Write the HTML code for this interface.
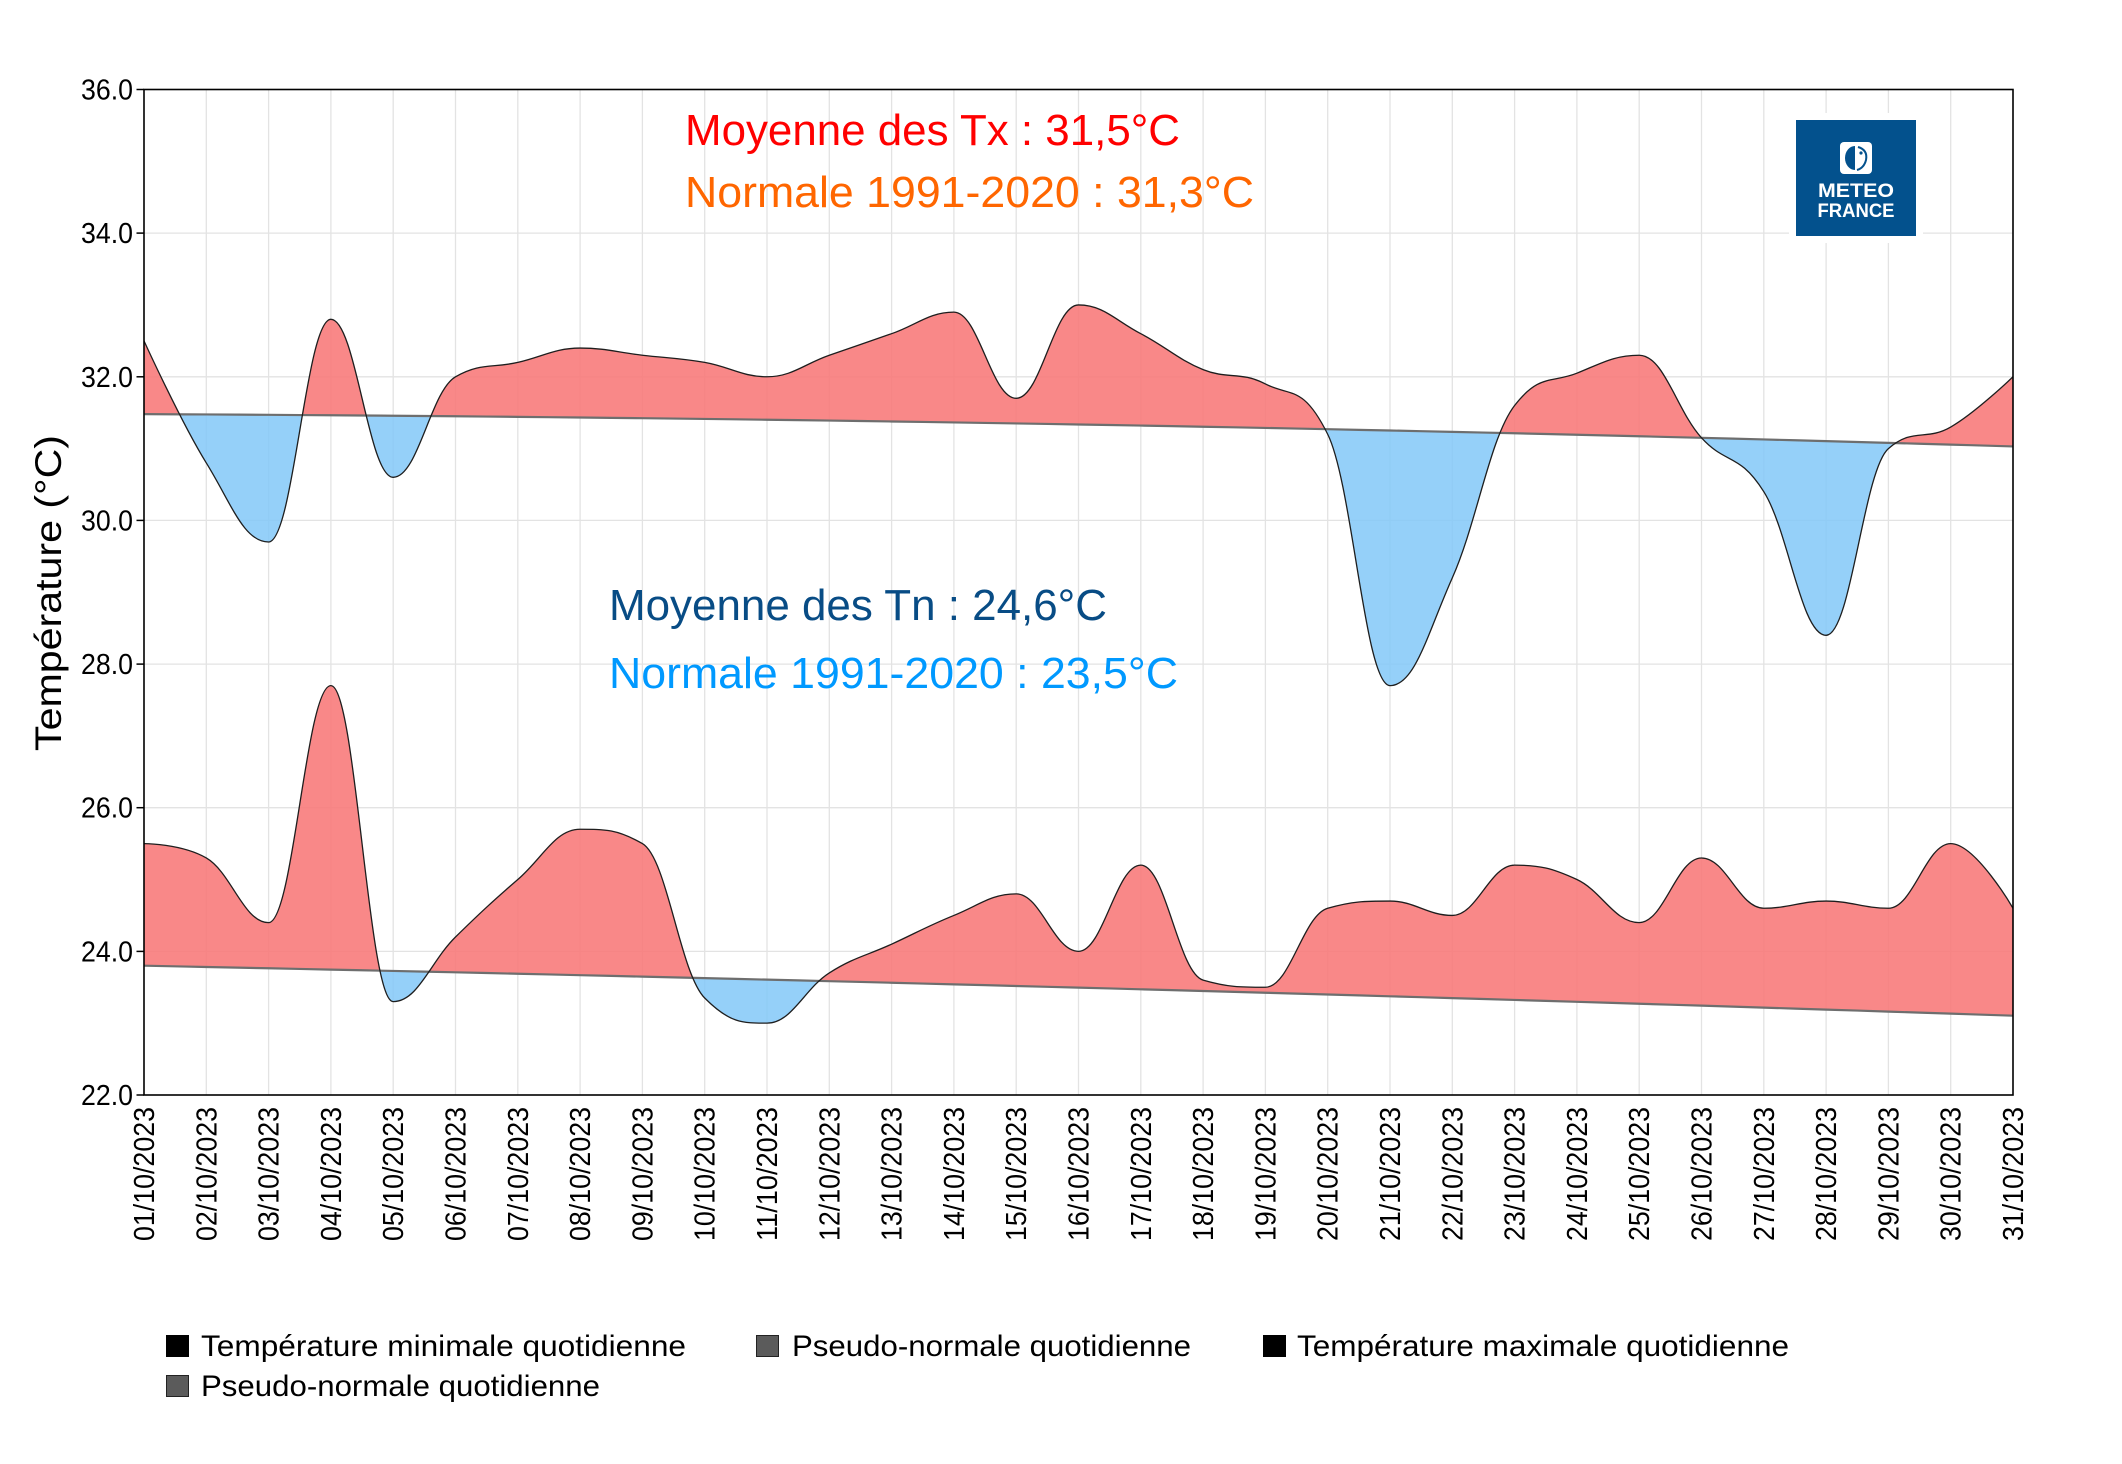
<!DOCTYPE html>
<html>
<head>
<meta charset="utf-8">
<style>
  html,body{margin:0;padding:0;background:#fff;}
  svg{display:block;}
  text{font-family:"Liberation Sans",Arial,sans-serif;}
</style>
</head>
<body>
<svg id="chart" width="2122" height="1464" viewBox="0 0 2122 1464" xmlns="http://www.w3.org/2000/svg">
  <rect x="0" y="0" width="2122" height="1464" fill="#fff"/>
  <defs>
    <clipPath id="plotClip"><rect x="144" y="89.5" width="1869" height="1005.5"/></clipPath>
    <clipPath id="txAbove"><path id="txAbovePath" d=""/></clipPath>
    <clipPath id="txBelow"><path id="txBelowPath" d=""/></clipPath>
    <clipPath id="tnAbove"><path id="tnAbovePath" d=""/></clipPath>
    <clipPath id="tnBelow"><path id="tnBelowPath" d=""/></clipPath>
  </defs>

  <!-- grid -->
  <g stroke="#e3e3e3" stroke-width="1.3">
    <line x1="206.3" y1="89.5" x2="206.3" y2="1095"/>
    <line x1="268.6" y1="89.5" x2="268.6" y2="1095"/>
    <line x1="330.9" y1="89.5" x2="330.9" y2="1095"/>
    <line x1="393.2" y1="89.5" x2="393.2" y2="1095"/>
    <line x1="455.5" y1="89.5" x2="455.5" y2="1095"/>
    <line x1="517.8" y1="89.5" x2="517.8" y2="1095"/>
    <line x1="580.1" y1="89.5" x2="580.1" y2="1095"/>
    <line x1="642.4" y1="89.5" x2="642.4" y2="1095"/>
    <line x1="704.7" y1="89.5" x2="704.7" y2="1095"/>
    <line x1="767" y1="89.5" x2="767" y2="1095"/>
    <line x1="829.3" y1="89.5" x2="829.3" y2="1095"/>
    <line x1="891.6" y1="89.5" x2="891.6" y2="1095"/>
    <line x1="953.9" y1="89.5" x2="953.9" y2="1095"/>
    <line x1="1016.2" y1="89.5" x2="1016.2" y2="1095"/>
    <line x1="1078.5" y1="89.5" x2="1078.5" y2="1095"/>
    <line x1="1140.8" y1="89.5" x2="1140.8" y2="1095"/>
    <line x1="1203.1" y1="89.5" x2="1203.1" y2="1095"/>
    <line x1="1265.4" y1="89.5" x2="1265.4" y2="1095"/>
    <line x1="1327.7" y1="89.5" x2="1327.7" y2="1095"/>
    <line x1="1390" y1="89.5" x2="1390" y2="1095"/>
    <line x1="1452.3" y1="89.5" x2="1452.3" y2="1095"/>
    <line x1="1514.6" y1="89.5" x2="1514.6" y2="1095"/>
    <line x1="1576.9" y1="89.5" x2="1576.9" y2="1095"/>
    <line x1="1639.2" y1="89.5" x2="1639.2" y2="1095"/>
    <line x1="1701.5" y1="89.5" x2="1701.5" y2="1095"/>
    <line x1="1763.8" y1="89.5" x2="1763.8" y2="1095"/>
    <line x1="1826.1" y1="89.5" x2="1826.1" y2="1095"/>
    <line x1="1888.4" y1="89.5" x2="1888.4" y2="1095"/>
    <line x1="1950.7" y1="89.5" x2="1950.7" y2="1095"/>
    <line x1="144" y1="233.1" x2="2013" y2="233.1"/>
    <line x1="144" y1="376.8" x2="2013" y2="376.8"/>
    <line x1="144" y1="520.4" x2="2013" y2="520.4"/>
    <line x1="144" y1="664.1" x2="2013" y2="664.1"/>
    <line x1="144" y1="807.7" x2="2013" y2="807.7"/>
    <line x1="144" y1="951.4" x2="2013" y2="951.4"/>
  </g>

  <!-- series areas (paths filled by script) -->
  <g clip-path="url(#plotClip)">
    <g clip-path="url(#txAbove)"><path id="txAreaR" d="" fill="rgba(248,120,120,0.88)"/></g>
    <g clip-path="url(#txBelow)"><path id="txAreaB" d="" fill="rgba(130,200,248,0.85)"/></g>
    <g clip-path="url(#tnAbove)"><path id="tnAreaR" d="" fill="rgba(248,120,120,0.88)"/></g>
    <g clip-path="url(#tnBelow)"><path id="tnAreaB" d="" fill="rgba(130,200,248,0.85)"/></g>
    <path id="txNorm" d="" fill="none" stroke="#6e6e6e" stroke-width="2.2"/>
    <path id="tnNorm" d="" fill="none" stroke="#6e6e6e" stroke-width="2.2"/>
    <path id="txLine" d="" fill="none" stroke="#1e1e1e" stroke-width="1.3"/>
    <path id="tnLine" d="" fill="none" stroke="#1e1e1e" stroke-width="1.3"/>
  </g>

  <!-- plot border -->
  <rect x="144" y="89.5" width="1869" height="1005.5" fill="none" stroke="#000" stroke-width="1.6"/>

  <!-- y ticks -->
  <g stroke="#000" stroke-width="1.5">
    <line x1="136.5" y1="89.5" x2="144" y2="89.5"/>
    <line x1="136.5" y1="233.1" x2="144" y2="233.1"/>
    <line x1="136.5" y1="376.8" x2="144" y2="376.8"/>
    <line x1="136.5" y1="520.4" x2="144" y2="520.4"/>
    <line x1="136.5" y1="664.1" x2="144" y2="664.1"/>
    <line x1="136.5" y1="807.7" x2="144" y2="807.7"/>
    <line x1="136.5" y1="951.4" x2="144" y2="951.4"/>
    <line x1="136.5" y1="1095" x2="144" y2="1095"/>
  </g>
  <g font-size="29" fill="#000" text-anchor="end">
    <text x="133" y="99.5" textLength="52" lengthAdjust="spacingAndGlyphs">36.0</text>
    <text x="133" y="243.1" textLength="52" lengthAdjust="spacingAndGlyphs">34.0</text>
    <text x="133" y="386.8" textLength="52" lengthAdjust="spacingAndGlyphs">32.0</text>
    <text x="133" y="530.4" textLength="52" lengthAdjust="spacingAndGlyphs">30.0</text>
    <text x="133" y="674.1" textLength="52" lengthAdjust="spacingAndGlyphs">28.0</text>
    <text x="133" y="817.7" textLength="52" lengthAdjust="spacingAndGlyphs">26.0</text>
    <text x="133" y="961.4" textLength="52" lengthAdjust="spacingAndGlyphs">24.0</text>
    <text x="133" y="1105" textLength="52" lengthAdjust="spacingAndGlyphs">22.0</text>
  </g>

  <!-- y axis title -->
  <text transform="translate(61,593) rotate(-90)" font-size="37" text-anchor="middle" fill="#000" textLength="316" lengthAdjust="spacingAndGlyphs">Température (°C)</text>

  <!-- x labels -->
  <g font-size="29" fill="#000" text-anchor="end">
    <text transform="translate(154,1107) rotate(-90)" textLength="134" lengthAdjust="spacingAndGlyphs">01/10/2023</text>
    <text transform="translate(216.3,1107) rotate(-90)" textLength="134" lengthAdjust="spacingAndGlyphs">02/10/2023</text>
    <text transform="translate(278.6,1107) rotate(-90)" textLength="134" lengthAdjust="spacingAndGlyphs">03/10/2023</text>
    <text transform="translate(340.9,1107) rotate(-90)" textLength="134" lengthAdjust="spacingAndGlyphs">04/10/2023</text>
    <text transform="translate(403.2,1107) rotate(-90)" textLength="134" lengthAdjust="spacingAndGlyphs">05/10/2023</text>
    <text transform="translate(465.5,1107) rotate(-90)" textLength="134" lengthAdjust="spacingAndGlyphs">06/10/2023</text>
    <text transform="translate(527.8,1107) rotate(-90)" textLength="134" lengthAdjust="spacingAndGlyphs">07/10/2023</text>
    <text transform="translate(590.1,1107) rotate(-90)" textLength="134" lengthAdjust="spacingAndGlyphs">08/10/2023</text>
    <text transform="translate(652.4,1107) rotate(-90)" textLength="134" lengthAdjust="spacingAndGlyphs">09/10/2023</text>
    <text transform="translate(714.7,1107) rotate(-90)" textLength="134" lengthAdjust="spacingAndGlyphs">10/10/2023</text>
    <text transform="translate(777,1107) rotate(-90)" textLength="134" lengthAdjust="spacingAndGlyphs">11/10/2023</text>
    <text transform="translate(839.3,1107) rotate(-90)" textLength="134" lengthAdjust="spacingAndGlyphs">12/10/2023</text>
    <text transform="translate(901.6,1107) rotate(-90)" textLength="134" lengthAdjust="spacingAndGlyphs">13/10/2023</text>
    <text transform="translate(963.9,1107) rotate(-90)" textLength="134" lengthAdjust="spacingAndGlyphs">14/10/2023</text>
    <text transform="translate(1026.2,1107) rotate(-90)" textLength="134" lengthAdjust="spacingAndGlyphs">15/10/2023</text>
    <text transform="translate(1088.5,1107) rotate(-90)" textLength="134" lengthAdjust="spacingAndGlyphs">16/10/2023</text>
    <text transform="translate(1150.8,1107) rotate(-90)" textLength="134" lengthAdjust="spacingAndGlyphs">17/10/2023</text>
    <text transform="translate(1213.1,1107) rotate(-90)" textLength="134" lengthAdjust="spacingAndGlyphs">18/10/2023</text>
    <text transform="translate(1275.4,1107) rotate(-90)" textLength="134" lengthAdjust="spacingAndGlyphs">19/10/2023</text>
    <text transform="translate(1337.7,1107) rotate(-90)" textLength="134" lengthAdjust="spacingAndGlyphs">20/10/2023</text>
    <text transform="translate(1400,1107) rotate(-90)" textLength="134" lengthAdjust="spacingAndGlyphs">21/10/2023</text>
    <text transform="translate(1462.3,1107) rotate(-90)" textLength="134" lengthAdjust="spacingAndGlyphs">22/10/2023</text>
    <text transform="translate(1524.6,1107) rotate(-90)" textLength="134" lengthAdjust="spacingAndGlyphs">23/10/2023</text>
    <text transform="translate(1586.9,1107) rotate(-90)" textLength="134" lengthAdjust="spacingAndGlyphs">24/10/2023</text>
    <text transform="translate(1649.2,1107) rotate(-90)" textLength="134" lengthAdjust="spacingAndGlyphs">25/10/2023</text>
    <text transform="translate(1711.5,1107) rotate(-90)" textLength="134" lengthAdjust="spacingAndGlyphs">26/10/2023</text>
    <text transform="translate(1773.8,1107) rotate(-90)" textLength="134" lengthAdjust="spacingAndGlyphs">27/10/2023</text>
    <text transform="translate(1836.1,1107) rotate(-90)" textLength="134" lengthAdjust="spacingAndGlyphs">28/10/2023</text>
    <text transform="translate(1898.4,1107) rotate(-90)" textLength="134" lengthAdjust="spacingAndGlyphs">29/10/2023</text>
    <text transform="translate(1960.7,1107) rotate(-90)" textLength="134" lengthAdjust="spacingAndGlyphs">30/10/2023</text>
    <text transform="translate(2023,1107) rotate(-90)" textLength="134" lengthAdjust="spacingAndGlyphs">31/10/2023</text>
  </g>

  <!-- annotations -->
  <g font-size="44">
    <text x="685" y="145" fill="#ff0000" textLength="495" lengthAdjust="spacingAndGlyphs">Moyenne des Tx : 31,5°C</text>
    <text x="685" y="207" fill="#ff6600" textLength="569" lengthAdjust="spacingAndGlyphs">Normale 1991-2020 : 31,3°C</text>
    <text x="609" y="620" fill="#084c85" textLength="498" lengthAdjust="spacingAndGlyphs">Moyenne des Tn : 24,6°C</text>
    <text x="609" y="688" fill="#0099ff" textLength="569" lengthAdjust="spacingAndGlyphs">Normale 1991-2020 : 23,5°C</text>
  </g>

  <!-- logo -->
  <rect x="1789" y="113" width="134" height="130" fill="#fff"/>
  <rect x="1796" y="120" width="120" height="116" fill="#03518d"/>
  <rect x="1840" y="142" width="32" height="32" rx="4" fill="#fff"/>
  <path d="M1855 146 A10 12 0 1 0 1855 170 Z" fill="#03518d"/>
  <path d="M1858 147 Q1868 150 1866 160 Q1864 168 1857 170" fill="none" stroke="#03518d" stroke-width="2"/>
  <circle cx="1861" cy="153" r="1.6" fill="#03518d"/>
  <g font-size="19.5" font-weight="bold" fill="#fff" text-anchor="middle">
    <text x="1856" y="197" textLength="76" lengthAdjust="spacingAndGlyphs">METEO</text>
    <text x="1856" y="217" textLength="77" lengthAdjust="spacingAndGlyphs">FRANCE</text>
  </g>

  <!-- legend -->
  <rect x="166" y="1335" width="23" height="22" fill="#000"/>
  <rect x="756.5" y="1335.5" width="22" height="21" fill="#5b5b5b" stroke="#222" stroke-width="1"/>
  <rect x="1263" y="1335" width="23" height="22" fill="#000"/>
  <rect x="166.5" y="1375.5" width="22" height="21" fill="#5b5b5b" stroke="#222" stroke-width="1"/>
  <g font-size="29.5" fill="#000">
    <text x="201" y="1356" textLength="485" lengthAdjust="spacingAndGlyphs">Température minimale quotidienne</text>
    <text x="792" y="1356" textLength="399" lengthAdjust="spacingAndGlyphs">Pseudo-normale quotidienne</text>
    <text x="1297" y="1356" textLength="492" lengthAdjust="spacingAndGlyphs">Température maximale quotidienne</text>
    <text x="201" y="1396" textLength="399" lengthAdjust="spacingAndGlyphs">Pseudo-normale quotidienne</text>
  </g>
</svg>

<script>
(function(){
  var X0=144, DX=62.3, Y36=89.5, PY=71.82;
  function ty(t){return Y36+(36-t)*PY;}
  var tx=[32.5,30.8,29.7,32.8,30.6,32.0,32.2,32.4,32.3,32.2,32.0,32.3,32.6,32.9,31.7,33.0,32.6,32.1,31.9,31.2,27.7,29.2,31.6,32.05,32.3,31.15,30.4,28.4,31.0,31.3,32.0];
  var tn=[25.5,25.3,24.4,27.7,23.3,24.2,25.0,25.7,25.5,23.35,23.0,23.7,24.1,24.5,24.8,24.0,25.2,23.6,23.5,24.6,24.7,24.5,25.2,25.0,24.4,25.3,24.6,24.7,24.6,25.5,24.6];
  function ntx(d){return 31.48-0.0042*d-0.00036*d*d;}
  function ntn(d){return 23.80-0.0175*d-0.00019*d*d;}
  function pts(arr){return arr.map(function(v,i){return [X0+i*DX, ty(v)];});}
  function mk(fn){var a=[];for(var i=0;i<31;i++)a.push([X0+i*DX, ty(fn(i))]);return a;}
  function spline(p){
    var sm=1.5, den=2.5, lc=[], rc=[], n=p.length;
    for(var i=0;i<n;i++){
      var P=p[i], L=p[i-1], N=p[i+1];
      if(L&&N){
        var lcx=(sm*P[0]+L[0])/den, lcy=(sm*P[1]+L[1])/den;
        var rcx=(sm*P[0]+N[0])/den, rcy=(sm*P[1]+N[1])/den;
        var corr=0;
        if(rcx!==lcx) corr=((rcy-lcy)*(rcx-P[0]))/(rcx-lcx)+P[1]-rcy;
        lcy+=corr; rcy+=corr;
        if(lcy>L[1]&&lcy>P[1]){lcy=Math.max(L[1],P[1]);rcy=2*P[1]-lcy;}
        else if(lcy<L[1]&&lcy<P[1]){lcy=Math.min(L[1],P[1]);rcy=2*P[1]-lcy;}
        if(rcy>N[1]&&rcy>P[1]){rcy=Math.max(N[1],P[1]);lcy=2*P[1]-rcy;}
        else if(rcy<N[1]&&rcy<P[1]){rcy=Math.min(N[1],P[1]);lcy=2*P[1]-rcy;}
        lc[i]=[lcx,lcy]; rc[i]=[rcx,rcy];
      } else { lc[i]=P; rc[i]=P; }
    }
    return {p:p,lc:lc,rc:rc};
  }
  function f(v){return v.toFixed(2);}
  function fwd(s,move){
    var p=s.p, d=(move===false?'L':'M')+f(p[0][0])+' '+f(p[0][1]);
    for(var i=1;i<p.length;i++){
      d+=' C'+f(s.rc[i-1][0])+' '+f(s.rc[i-1][1])+' '+f(s.lc[i][0])+' '+f(s.lc[i][1])+' '+f(p[i][0])+' '+f(p[i][1]);
    }
    return d;
  }
  function rev(s){
    var p=s.p, n=p.length, d=' L'+f(p[n-1][0])+' '+f(p[n-1][1]);
    for(var i=n-1;i>=1;i--){
      d+=' C'+f(s.lc[i][0])+' '+f(s.lc[i][1])+' '+f(s.rc[i-1][0])+' '+f(s.rc[i-1][1])+' '+f(p[i-1][0])+' '+f(p[i-1][1]);
    }
    return d;
  }
  function set(id,attr,val){document.getElementById(id).setAttribute(attr,val);}
  function build(data,normFn,pre){
    var s=spline(pts(data)), ns=spline(mk(normFn));
    var area=fwd(s)+rev(ns)+' Z';
    var np=ns.p, last=np[np.length-1], first=np[0];
    var nf=fwd(ns);
    var above=nf+' L2030 '+f(last[1])+' L2030 0 L120 0 L120 '+f(first[1])+' Z';
    var below=nf+' L2030 '+f(last[1])+' L2030 1464 L120 1464 L120 '+f(first[1])+' Z';
    set(pre+'AreaR','d',area); set(pre+'AreaB','d',area);
    set(pre+'AbovePath','d',above); set(pre+'BelowPath','d',below);
    set(pre+'Line','d',fwd(s)); set(pre+'Norm','d',nf);
  }
  build(tx,ntx,'tx');
  build(tn,ntn,'tn');
})();
</script>
</body>
</html>
